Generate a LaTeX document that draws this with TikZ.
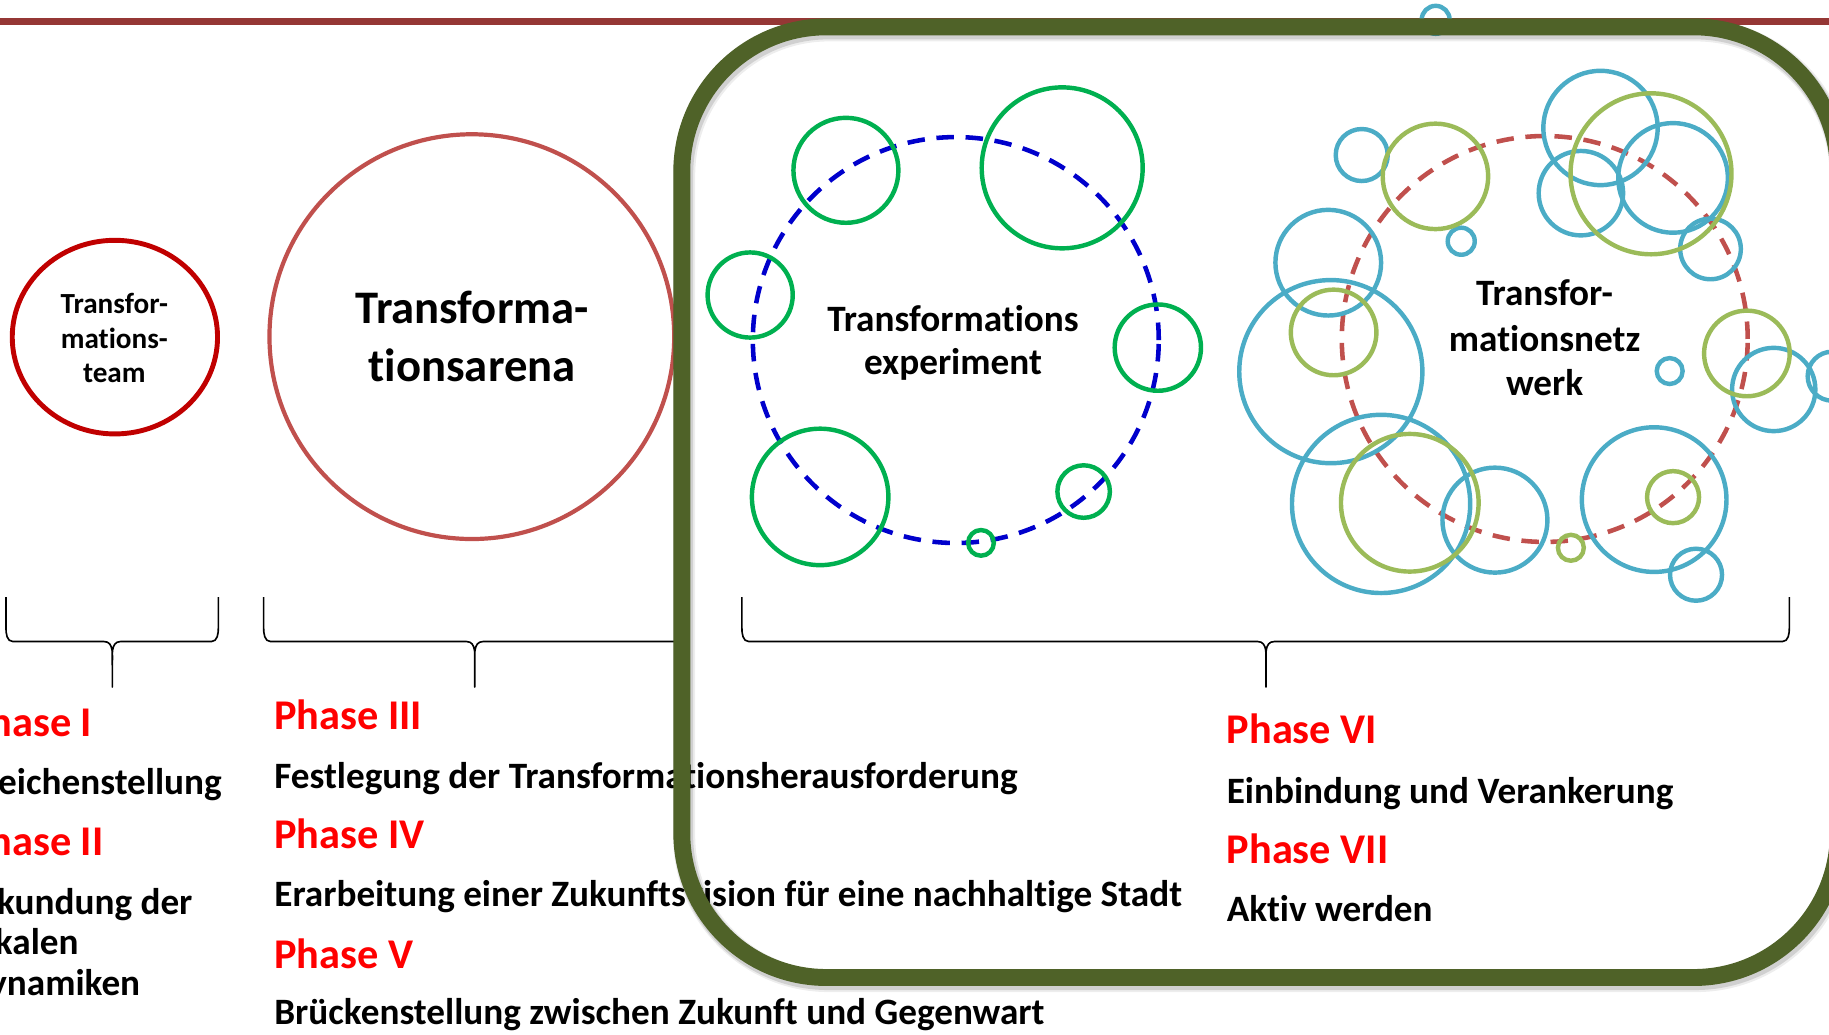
\documentclass[tikz,border=0pt]{standalone}
\usepackage{fontspec}
\setmainfont{Carlito}[RawFeature={-liga;-clig;-dlig;-calt}]
\definecolor{toprule}{HTML}{953735}
\definecolor{teamred}{HTML}{C00000}
\definecolor{arenared}{HTML}{C0504D}
\definecolor{expblue}{HTML}{0000CC}
\definecolor{expgreen}{HTML}{00B050}
\definecolor{netblue}{HTML}{4BACC6}
\definecolor{netgreen}{HTML}{9BBB59}
\definecolor{framegreen}{HTML}{4F6228}
\definecolor{phasered}{HTML}{FF0000}

\tikzset{
  bubble/.style={line width=3.8pt},
  eg/.style={bubble, draw=expgreen},
  nb/.style={bubble, draw=netblue},
  ng/.style={bubble, draw=netgreen},
  ring/.style={line width=3.9pt, dash pattern=on 15pt off 10pt},
  head/.style={anchor=base west, inner sep=0pt, text=phasered,
    font=\fontsize{36.3}{43}\selectfont\bfseries},
  desc/.style={anchor=base west, inner sep=0pt,
    font=\fontsize{31.9}{35}\selectfont\bfseries},
  lbl/.style={anchor=base, inner sep=0pt,
    font=\fontsize{31.9}{38}\selectfont\bfseries},
  teamlbl/.style={anchor=base, inner sep=0pt,
    font=\fontsize{25}{30}\selectfont\bfseries},
  arenalbl/.style={anchor=base, inner sep=0pt,
    font=\fontsize{40}{49}\selectfont\bfseries},
  bracepath/.style={line width=1.4pt, line join=round},
}

% curly brace opening downwards: left end, tip, right end
\newcommand\phasebrace[3]{%
  \draw[bracepath] (#1,512) -- (#1,538) to[out=-90,in=180] ({#1+6},550)
    -- ({#2-7},550) to[out=0,in=90] (#2,571) -- (#2,589)
    -- (#2,571) to[out=90,in=180] ({#2+7},550)
    -- ({#3-6},550) to[out=0,in=-90] (#3,538) -- (#3,512);}

\begin{document}
\begin{tikzpicture}[x=1pt,y=-1pt]
\useasboundingbox (0,0) rectangle (1568,887);
\clip (0,0) rectangle (1568,887);

% rule along the top
\draw[toprule, line width=6pt] (0,18) -- (1568,18);

% team and arena
\draw[teamred, line width=4.2pt] (98.5,289) ellipse [x radius=88pt, y radius=83pt];
\node[teamlbl] (team1) at (98,268.8) {Transfor-};
\node[teamlbl] (team2) at (98,298.5) {mations-};
\node[teamlbl] (team3) at (98,328.2) {team};

\draw[arenared, line width=3.6pt] (404.5,288.6) circle [radius=173.5pt];
\node[arenalbl] (arena1) at (404.7,277) {Transforma-};
\node[arenalbl] (arena2) at (404.7,326.7) {tionsarena};

% experiment cluster
\draw[ring, expblue] (819.4,291.5) circle [radius=174pt];
\foreach \x/\y/\r in {725.2/146/45, 910.6/143.9/69, 643.1/252.9/36.5,
    992.6/298/37, 703.1/426/58.5, 929/421.4/22.5, 841/465.4/11}
  \draw[eg] (\x,\y) circle [radius=\r pt];
\node[lbl] (exp1) at (817,284) {Transformations};
\node[lbl] (exp2) at (817,321) {experiment};

% network cluster
\draw[ring, arenared] (1324.3,290.6) circle [radius=174pt];
\foreach \x/\y/\r in {1230.8/17/12, 1167.4/132.9/22.3, 1252.7/206.8/11.6,
    1372.1/109.7/49, 1355.3/165.6/36.2, 1434.3/152.5/47, 1466.4/213.4/26,
    1138.7/225.2/45.3, 1140.9/318.6/78.5, 1184/432/76.4, 1281.6/445.9/45,
    1418.1/428.3/62, 1454/492.7/22.3, 1431.4/318.1/11.1, 1520.6/333.9/35.7,
    1570.7/322.5/21}
  \draw[nb] (\x,\y) circle [radius=\r pt];
\foreach \x/\y/\r in {1230.6/151.2/45.2, 1415.4/149/69, 1143.3/285/36.7,
    1497.6/303/36.7, 1208.6/431/59, 1434.3/426.2/22.3, 1346.7/469.6/11.1}
  \draw[ng] (\x,\y) circle [radius=\r pt];
\node[lbl] (net1) at (1324.2,262.3) {Transfor-};
\node[lbl] (net2) at (1324.2,301) {mationsnetz};
\node[lbl] (net3) at (1324.2,339) {werk};

% braces
\phasebrace{5.1}{96.3}{187.2}
\phasebrace{226}{407}{588}
\phasebrace{636}{1085.3}{1534}

% phase texts
\node[head] (p1) at (-28.5,631.5) {Phase I};
\node[desc] (d1) at (-29.5,681.5) {Weichenstellung};
\node[head] (p2) at (-28.5,733.7) {Phase II};
\node[desc] (d2a) at (-29.5,783.8) {Erkundung der};
\node[desc] (d2b) at (-29.5,818.7) {lokalen};
\node[desc] (d2c) at (-29.5,853.3) {Dynamiken};

\node[head] (p3) at (235,625.2) {Phase III};
\node[desc] (d3) at (235,675.8) {Festlegung der Transformationsherausforderung};
\node[head] (p4) at (235,727.3) {Phase IV};
\node[desc] (d4) at (235,777.3) {Erarbeitung einer Zukunftsvision für eine nachhaltige Stadt};
\node[head] (p5) at (235,830) {Phase V};
\node[desc] (d5) at (235,878.7) {Brückenstellung zwischen Zukunft und Gegenwart};

\node[head] (p6) at (1051.5,637.8) {Phase VI};
\node[desc] (d6) at (1051.5,688.7) {Einbindung und Verankerung};
\node[head] (p7) at (1051.5,740) {Phase VII};
\node[desc] (d7) at (1051.5,790) {Aktiv werden};

% frame round the experiment and network phases, with a soft shadow
\draw[black, opacity=0.07, line width=19pt, rounded corners=124pt]
  (586.5,26) rectangle (1578,841);
\draw[black, opacity=0.12, line width=16.5pt, rounded corners=124pt]
  (586,25.5) rectangle (1577.5,840.5);
\draw[framegreen, line width=14.5pt, rounded corners=124pt]
  (584.5,23) rectangle (1576,838);
\end{tikzpicture}
\end{document}
